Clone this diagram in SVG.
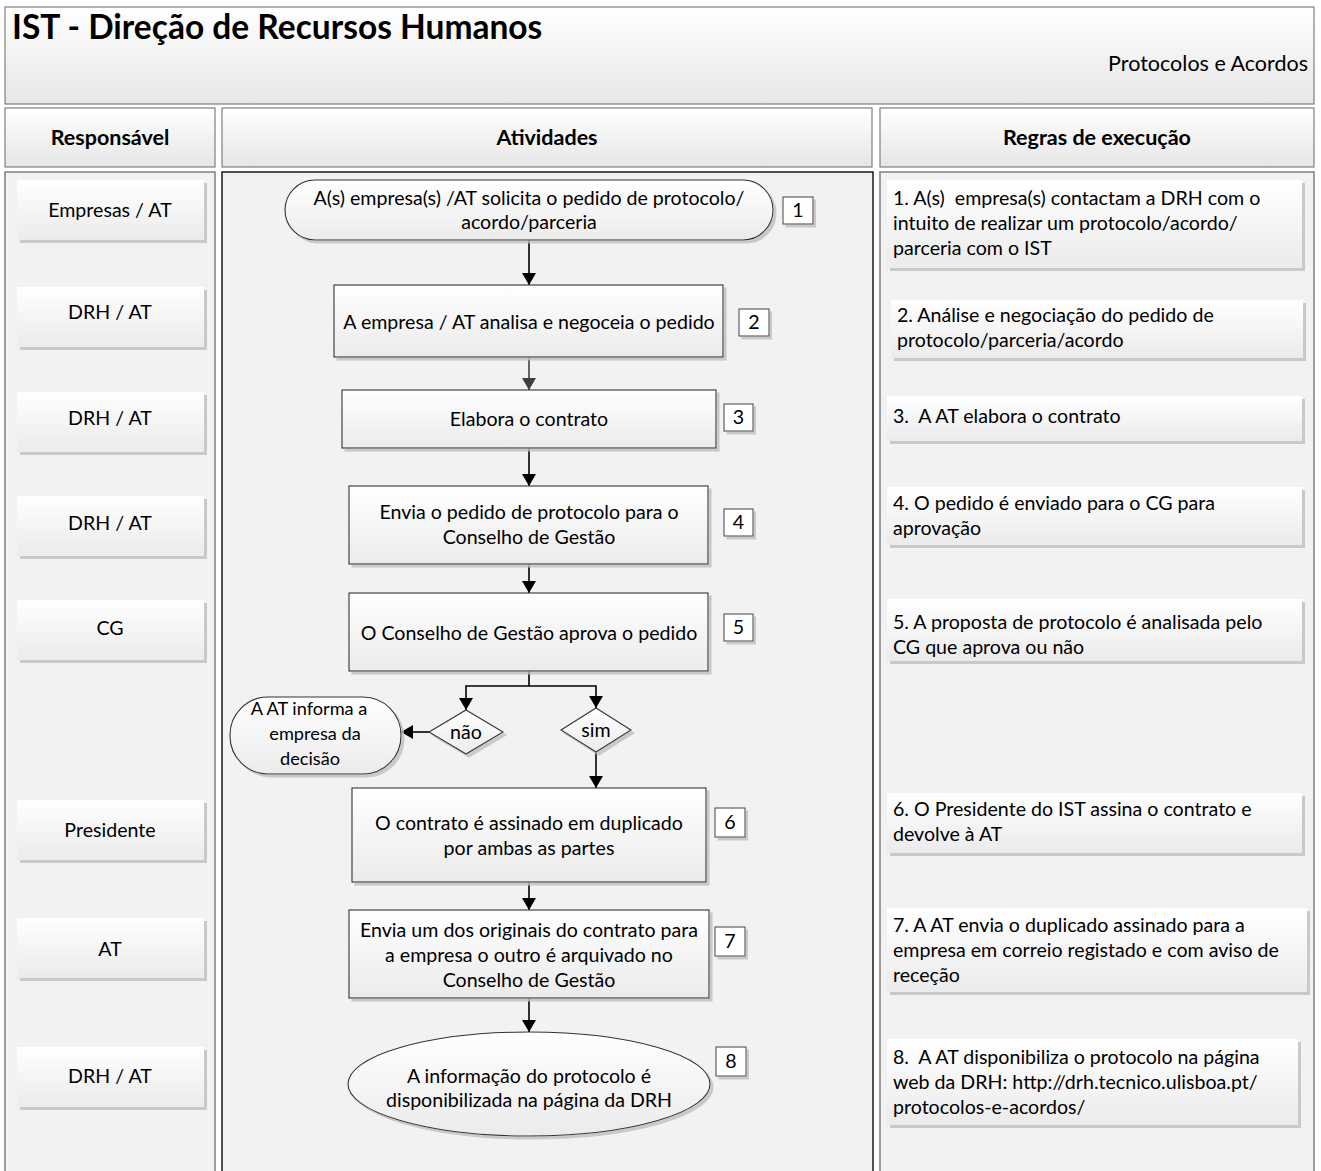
<svg xmlns="http://www.w3.org/2000/svg" width="1321" height="1171" viewBox="0 0 1321 1171">
<defs>
<linearGradient id="gBox" x1="0" y1="0" x2="0" y2="1"><stop offset="0" stop-color="#ffffff"/><stop offset="1" stop-color="#ebebeb"/></linearGradient>
<linearGradient id="gHead" x1="0" y1="0" x2="0" y2="1"><stop offset="0" stop-color="#ffffff"/><stop offset="1" stop-color="#e6e6e6"/></linearGradient>
<filter id="sh" x="-5%" y="-10%" width="115%" height="130%"><feDropShadow dx="3" dy="3" stdDeviation="0.6" flood-color="#bfbfbf" flood-opacity="0.8"/></filter>
<marker id="arr" viewBox="0 0 12 14" refX="12" refY="7" markerWidth="12" markerHeight="14" markerUnits="userSpaceOnUse" orient="auto"><path d="M0,0 L12,7 L0,14 Z" fill="#000"/></marker>
<marker id="arrG" viewBox="0 0 12 14" refX="12" refY="7" markerWidth="12" markerHeight="14" markerUnits="userSpaceOnUse" orient="auto"><path d="M0,0 L12,7 L0,14 Z" fill="#404040"/></marker>
</defs>
<style>
text{font-family:Lato,"Liberation Sans",sans-serif;fill:#000;white-space:pre;}
.t{font-size:19.6px;text-anchor:middle;}
.l{font-size:19.6px;text-anchor:start;}
.s{font-size:18.2px;text-anchor:middle;}
.hb{font-size:21.5px;font-weight:bold;text-anchor:middle;}
.hdr{fill:url(#gHead);stroke:#7f7f7f;stroke-width:1.2;}
.col{fill:#f2f2f2;stroke:#808080;stroke-width:1.5;}
.colm{fill:#f2f2f2;stroke:#1a1a1a;stroke-width:1.5;}
.lbl{fill:url(#gBox);filter:url(#sh);}
.nd{fill:url(#gBox);stroke:#333;stroke-width:1.1;filter:url(#sh);}
.num{fill:#fff;stroke:#444;stroke-width:1;filter:url(#sh);}
.c{fill:none;stroke:#000;stroke-width:1.6;}
</style>
<rect width="1321" height="1171" fill="#ffffff"/>
<g id="header">
<rect class="hdr" x="5" y="7" width="1309" height="97"/>
<text x="12" y="39" style="font-size:33.5px;font-weight:bold;">IST - Direção de Recursos Humanos</text>
<text x="1308" y="71" style="font-size:21.5px;text-anchor:end;">Protocolos e Acordos</text>
</g>
<g id="col-headers">
<rect class="hdr" x="5" y="108" width="210" height="59"/>
<text class="hb" x="110" y="145">Responsável</text>
<rect class="hdr" x="222" y="108" width="650" height="59"/>
<text class="hb" x="547" y="145">Atividades</text>
<rect class="hdr" x="880" y="108" width="434" height="59"/>
<text class="hb" x="1097" y="145">Regras de execução</text>
</g>
<g id="columns">
<rect class="col" x="5" y="172" width="210" height="1010"/>
<rect class="colm" x="222" y="172" width="651" height="1010"/>
<rect class="col" x="880" y="172" width="434" height="1010"/>
</g>
<g id="responsaveis">
<g id="r1"><rect class="lbl" x="17" y="180" width="187" height="60"/><text class="t" x="110" y="217">Empresas / AT</text></g>
<g id="r2"><rect class="lbl" x="17" y="287" width="187" height="60"/><text class="t" x="110" y="319">DRH / AT</text></g>
<g id="r3"><rect class="lbl" x="17" y="392" width="187" height="60"/><text class="t" x="110" y="425">DRH / AT</text></g>
<g id="r4"><rect class="lbl" x="17" y="496" width="187" height="60"/><text class="t" x="110" y="530">DRH / AT</text></g>
<g id="r5"><rect class="lbl" x="17" y="600" width="187" height="60"/><text class="t" x="110" y="635">CG</text></g>
<g id="r6"><rect class="lbl" x="17" y="800" width="187" height="60"/><text class="t" x="110" y="837">Presidente</text></g>
<g id="r7"><rect class="lbl" x="17" y="918" width="187" height="60"/><text class="t" x="110" y="956">AT</text></g>
<g id="r8"><rect class="lbl" x="17" y="1047" width="187" height="60"/><text class="t" x="110" y="1083">DRH / AT</text></g>
</g>
<g id="regras">
<g id="g1"><rect class="lbl" x="887" y="180" width="415" height="88"/><text class="l" x="893" y="205">1. A(s)  empresa(s) contactam a DRH com o</text><text class="l" x="893" y="230">intuito de realizar um protocolo/acordo/</text><text class="l" x="893" y="255">parceria com o IST</text></g>
<g id="g2"><rect class="lbl" x="891" y="300" width="412" height="58"/><text class="l" x="897" y="322">2. Análise e negociação do pedido de</text><text class="l" x="897" y="347">protocolo/parceria/acordo</text></g>
<g id="g3"><rect class="lbl" x="887" y="396" width="415" height="45"/><text class="l" x="893" y="423">3.  A AT elabora o contrato</text></g>
<g id="g4"><rect class="lbl" x="887" y="487" width="415" height="58"/><text class="l" x="893" y="510">4. O pedido é enviado para o CG para</text><text class="l" x="893" y="535">aprovação</text></g>
<g id="g5"><rect class="lbl" x="887" y="599" width="415" height="62"/><text class="l" x="893" y="629">5. A proposta de protocolo é analisada pelo</text><text class="l" x="893" y="654">CG que aprova ou não</text></g>
<g id="g6"><rect class="lbl" x="887" y="793" width="415" height="60"/><text class="l" x="893" y="816">6. O Presidente do IST assina o contrato e</text><text class="l" x="893" y="841">devolve à AT</text></g>
<g id="g7"><rect class="lbl" x="887" y="908" width="420" height="84"/><text class="l" x="893" y="932">7. A AT envia o duplicado assinado para a</text><text class="l" x="893" y="957">empresa em correio registado e com aviso de</text><text class="l" x="893" y="982">receção</text></g>
<g id="g8"><rect class="lbl" x="887" y="1039" width="411" height="86"/><text class="l" x="893" y="1064">8.  A AT disponibiliza o protocolo na página</text><text class="l" x="893" y="1089">web da DRH: http://drh.tecnico.ulisboa.pt/</text><text class="l" x="893" y="1114">protocolos-e-acordos/</text></g>
</g>
<g id="connectors">
<line class="c" x1="529" y1="240" x2="529" y2="285" marker-end="url(#arr)"/>
<line class="c" x1="529" y1="357" x2="529" y2="390" style="stroke:#404040" marker-end="url(#arrG)"/>
<line class="c" x1="529" y1="448" x2="529" y2="486" marker-end="url(#arr)"/>
<line class="c" x1="529" y1="564" x2="529" y2="593" marker-end="url(#arr)"/>
<polyline class="c" points="529,671 529,686 466,686 466,710" marker-end="url(#arr)"/>
<polyline class="c" points="529,686 596,686 596,708" marker-end="url(#arr)"/>
<line class="c" x1="429" y1="732" x2="401" y2="732" marker-end="url(#arr)"/>
<line class="c" x1="596" y1="752" x2="596" y2="788" marker-end="url(#arr)"/>
<line class="c" x1="529" y1="882" x2="529" y2="910" marker-end="url(#arr)"/>
<line class="c" x1="529" y1="998" x2="529" y2="1032" marker-end="url(#arr)"/>
</g>
<g id="n1"><rect class="nd" x="285" y="180" width="488" height="60" rx="30"/><text class="t" x="529" y="205">A(s) empresa(s) /AT solicita o pedido de protocolo/</text><text class="t" x="529" y="229">acordo/parceria</text></g>
<g id="b1"><rect class="num" x="783" y="197" width="30" height="27"/><text class="t" x="798" y="217">1</text></g>
<g id="n2"><rect class="nd" x="334" y="285" width="389" height="72"/><text class="t" x="529" y="329">A empresa / AT analisa e negoceia o pedido</text></g>
<g id="b2"><rect class="num" x="739" y="309" width="30" height="27"/><text class="t" x="754" y="329">2</text></g>
<g id="n3"><rect class="nd" x="342" y="390" width="374" height="58"/><text class="t" x="529" y="426">Elabora o contrato</text></g>
<g id="b3"><rect class="num" x="724" y="404" width="29" height="27"/><text class="t" x="738.5" y="424">3</text></g>
<g id="n4"><rect class="nd" x="349" y="486" width="359" height="78"/><text class="t" x="529" y="519">Envia o pedido de protocolo para o</text><text class="t" x="529" y="544">Conselho de Gestão</text></g>
<g id="b4"><rect class="num" x="724" y="509" width="29" height="27"/><text class="t" x="738.5" y="529">4</text></g>
<g id="n5"><rect class="nd" x="349" y="593" width="359" height="78"/><text class="t" x="529" y="640">O Conselho de Gestão aprova o pedido</text></g>
<g id="b5"><rect class="num" x="724" y="614" width="29" height="27"/><text class="t" x="738.5" y="634">5</text></g>
<g id="d-nao"><polygon class="nd" points="466,710 503,732 466,754 429,732"/><text class="t" x="466" y="739">não</text></g>
<g id="d-sim"><polygon class="nd" points="596,708 631,730 596,752 561,730"/><text class="t" x="596" y="737">sim</text></g>
<g id="n-info"><rect class="nd" x="230" y="697" width="171" height="77" rx="38"/><text class="s" x="309" y="715">A AT informa a</text><text class="s" x="315" y="740">empresa da</text><text class="s" x="310" y="765">decisão</text></g>
<g id="n6"><rect class="nd" x="352" y="788" width="354" height="94"/><text class="t" x="529" y="830">O contrato é assinado em duplicado</text><text class="t" x="529" y="855">por ambas as partes</text></g>
<g id="b6"><rect class="num" x="715" y="808" width="30" height="29"/><text class="t" x="730" y="829">6</text></g>
<g id="n7"><rect class="nd" x="349" y="910" width="360" height="88"/><text class="t" x="529" y="937">Envia um dos originais do contrato para</text><text class="t" x="529" y="962">a empresa o outro é arquivado no</text><text class="t" x="529" y="987">Conselho de Gestão</text></g>
<g id="b7"><rect class="num" x="715" y="927" width="30" height="29"/><text class="t" x="730" y="948">7</text></g>
<g id="n8"><ellipse class="nd" cx="529" cy="1084" rx="181" ry="52"/><text class="t" x="529" y="1083">A informação do protocolo é</text><text class="t" x="529" y="1107">disponibilizada na página da DRH</text></g>
<g id="b8"><rect class="num" x="716" y="1047" width="30" height="29"/><text class="t" x="731" y="1068">8</text></g>
</svg>
